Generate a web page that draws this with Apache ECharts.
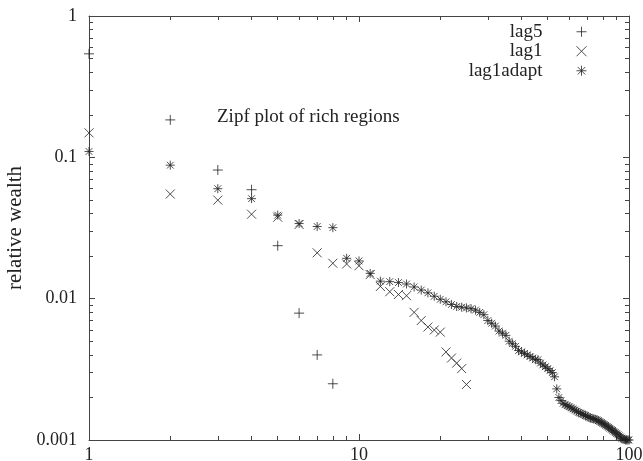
<!DOCTYPE html>
<html>
<head>
<meta charset="utf-8">
<script src="https://cdn.jsdelivr.net/npm/echarts@6/dist/echarts.min.js"></script>
<style>html,body{margin:0;padding:0;background:#fff}#c{width:643px;height:461px}</style>
</head>
<body>
<div id="c"></div>
<script>
// Rank (x) is the 1-based position in each array
var seriesNames = ['lag5', 'lag1', 'lag1adapt'];
var lag5 = [0.54, 0.184, 0.0813, 0.059, 0.0237, 0.0079, 0.0040, 0.0025];
var lag1 = [0.149, 0.055, 0.0498, 0.0396, 0.0377, 0.0335, 0.0211, 0.0178, 0.0176, 0.0171,
            0.0148, 0.0122, 0.0112, 0.0107, 0.0105, 0.0080, 0.0070, 0.0063, 0.0060, 0.0058,
            0.0042, 0.0038, 0.0035, 0.0032, 0.00247];
var lag1adapt = [0.110, 0.088, 0.060, 0.051, 0.039, 0.034, 0.0324, 0.0318, 0.0193, 0.0185,
                 0.0151, 0.0133, 0.0132, 0.0130, 0.0127, 0.0121, 0.0115, 0.0110, 0.0104, 0.0099,
                 0.0095, 0.0091, 0.0088, 0.0087, 0.0086, 0.0085, 0.0083, 0.0080, 0.0077, 0.0070,
                 0.0067, 0.0064, 0.0059, 0.0057, 0.0055, 0.0050, 0.0048, 0.0046, 0.0043, 0.0042,
                 0.0041, 0.0040, 0.0039, 0.0038, 0.0037, 0.0037, 0.0035, 0.0034, 0.0033, 0.0032,
                 0.0031, 0.0030, 0.0028, 0.0023, 0.0020, 0.0019, 0.00182, 0.00178, 0.00175, 0.00172,
                 0.00169, 0.00166, 0.00163, 0.00160, 0.00157, 0.00155, 0.00153, 0.00151, 0.00149, 0.00147,
                 0.00145, 0.00143, 0.00142, 0.00141, 0.00140, 0.00139, 0.00137, 0.00135, 0.00133, 0.00131,
                 0.00129, 0.00127, 0.00125, 0.00123, 0.00121, 0.00119, 0.00117, 0.00115, 0.00113, 0.00111,
                 0.00109, 0.00107, 0.00105, 0.00103, 0.00102, 0.00101, 0.00100, 0.00100, 0.00100, 0.00100];
var xMin = 1, xMax = 100;
var yMin = 0.001, yMax = 1;
var titleText = 'Zipf plot of rich regions';
var yName = 'relative wealth';

var FONT = '"Liberation Serif", "Times New Roman", serif';
var INK = '#222';
var AX = '#444';

function toPairs(arr) { return arr.map(function (v, i) { return [i + 1, v]; }); }
function minorPositions(lo, hi) {
  var out = [];
  for (var d = lo; d < hi; d++) for (var k = 2; k <= 9; k++) out.push(d + Math.log10(k));
  return out;
}
var minorX = minorPositions(Math.log10(xMin), Math.log10(xMax));
var minorY = minorPositions(Math.log10(yMin), Math.log10(yMax));

var SYM_PLUS = 'path://M0,-1L0,1M-1,0L1,0';
var SYM_X = 'path://M-1,-1L1,1M-1,1L1,-1';
var SYM_STAR = 'path://M0,-1L0,1M-1,0L1,0M-0.75,-0.75L0.75,0.75M-0.75,0.75L0.75,-0.75M-1,-1L-1,-1M1,1L1,1';

function symStyle() { return { color: 'rgba(0,0,0,0)', borderColor: INK, borderWidth: 1 }; }

function majorAxis(dim, pos, labels) {
  var a = {
    type: 'log', logBase: 10, position: pos,
    min: dim === 'x' ? xMin : yMin, max: dim === 'x' ? xMax : yMax,
    axisLine: { show: true, onZero: false, lineStyle: { color: AX, width: 1 } },
    axisTick: { show: true, inside: true, length: 6, lineStyle: { color: AX, width: 1 } },
    axisLabel: { show: labels, fontFamily: FONT, fontSize: 18, color: INK,
      margin: dim === 'x' ? 6 : 12,
      formatter: function (v) { return String(+(+v).toPrecision(3)); } },
    splitLine: { show: false }
  };
  if (dim === 'y' && labels) {
    a.name = yName; a.nameLocation = 'middle'; a.nameGap = 61;
    a.nameTextStyle = { fontFamily: FONT, fontSize: 21, color: INK };
  }
  return a;
}
function minorAxis(dim, pos) {
  return {
    type: 'value', position: pos,
    min: dim === 'x' ? Math.log10(xMin) : Math.log10(yMin),
    max: dim === 'x' ? Math.log10(xMax) : Math.log10(yMax),
    axisLine: { show: false, onZero: false },
    axisTick: { show: true, inside: true, length: 4, customValues: dim === 'x' ? minorX : minorY,
      lineStyle: { color: AX, width: 1 } },
    axisLabel: { show: false },
    splitLine: { show: false }
  };
}

var chart = echarts.init(document.getElementById('c'), null, { renderer: 'canvas' });
chart.setOption({
  animation: false,
  backgroundColor: '#fff',
  title: {
    text: titleText, left: 217, top: 106, padding: 0,
    textStyle: { fontFamily: FONT, fontSize: 19, fontWeight: 'normal', color: INK, lineHeight: 22 }
  },
  legend: {
    orient: 'vertical', right: 56, top: 22, align: 'right', padding: 0,
    itemWidth: 68, itemHeight: 10, itemGap: 0,
    itemStyle: { borderWidth: 1 },
    textStyle: { fontFamily: FONT, fontSize: 19, color: INK, lineHeight: 19.5 },
    data: seriesNames
  },
  grid: { left: 89, top: 16, right: 14, bottom: 21, containLabel: false, outerBoundsMode: 'none' },
  xAxis: [majorAxis('x', 'bottom', true), minorAxis('x', 'bottom'), majorAxis('x', 'top', false), minorAxis('x', 'top')],
  yAxis: [majorAxis('y', 'left', true), minorAxis('y', 'left'), majorAxis('y', 'right', false), minorAxis('y', 'right')],
  series: [
    { name: seriesNames[0], type: 'scatter', data: toPairs(lag5), symbol: SYM_PLUS, symbolSize: 10,
      itemStyle: symStyle(), xAxisIndex: 0, yAxisIndex: 0 },
    { name: seriesNames[1], type: 'scatter', data: toPairs(lag1), symbol: SYM_X, symbolSize: 9,
      itemStyle: symStyle(), xAxisIndex: 0, yAxisIndex: 0 },
    { name: seriesNames[2], type: 'scatter', data: toPairs(lag1adapt), symbol: SYM_STAR, symbolSize: 9,
      itemStyle: symStyle(), xAxisIndex: 0, yAxisIndex: 0 }
  ]
});
</script>
</body>
</html>
